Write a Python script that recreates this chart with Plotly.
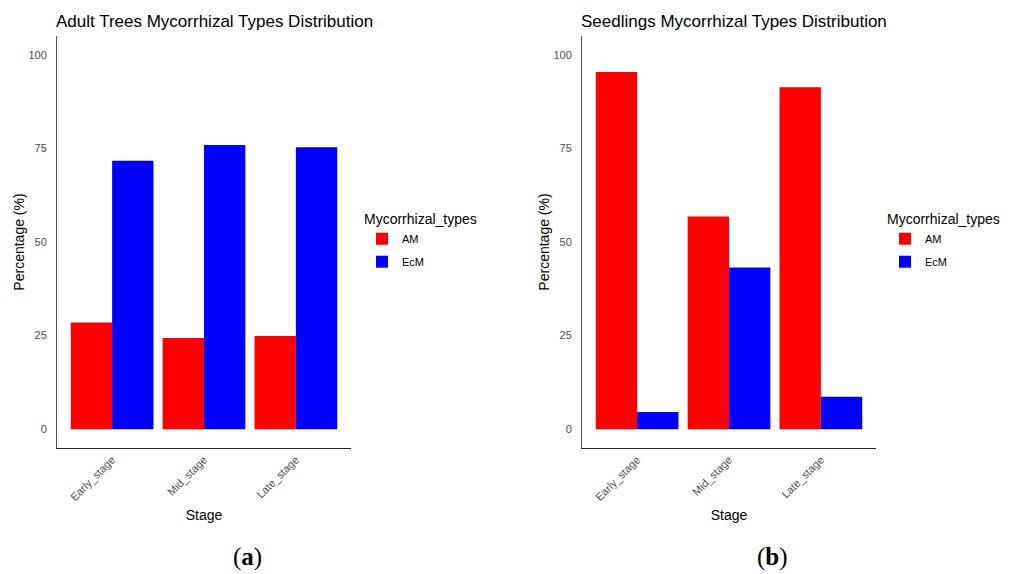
import plotly.graph_objects as go

stages = ["Early_stage", "Mid_stage", "Late_stage"]
types = ["AM", "EcM"]
adult_am = [28.5, 24.4, 24.9]
adult_ecm = [71.7, 75.9, 75.3]
seed_am = [95.4, 56.8, 91.3]
seed_ecm = [4.6, 43.2, 8.7]
colors = {"AM": "#ff0000", "EcM": "#0000ff"}
titles = ["Adult Trees Mycorrhizal Types Distribution", "Seedlings Mycorrhizal Types Distribution"]
y_ticks = [0, 25, 50, 75, 100]
panel_labels = ["a", "b"]

W, H = 1014, 574
fig = go.Figure()

panels = [
    ("x", "y", "legend", {"AM": adult_am, "EcM": adult_ecm}),
    ("x2", "y2", "legend2", {"AM": seed_am, "EcM": seed_ecm}),
]
for k, (xa, ya, lg, data) in enumerate(panels):
    for t in types:
        fig.add_trace(go.Bar(
            x=stages, y=data[t], name=t, xaxis=xa, yaxis=ya, legend=lg,
            legendgroup="%s_%d" % (t, k),
            marker=dict(color=colors[t], line=dict(width=0)),
        ))

FONT = "Liberation Sans, Arial, sans-serif"
TICKC = "#4d4d4d"

def px_x(v):
    return v / W

def px_y(v):
    return 1 - v / H

xdoms = [(57, 351), (582, 876)]
ydom = [px_y(448), px_y(36)]

axis_common_x = dict(
    type="category", range=[-0.6, 2.6], showgrid=False, zeroline=False,
    showline=True, linecolor="#222222", linewidth=1, ticks="",
    tickangle=-45, tickfont=dict(family=FONT, size=11, color=TICKC),
    title=dict(text="Stage", font=dict(family=FONT, size=14, color="#000000"), standoff=8),
)
axis_common_y = dict(
    range=[-5, 105], tickvals=y_ticks, showgrid=False, zeroline=False,
    showline=True, linecolor="#555555", linewidth=1, ticks="",
    ticklabelstandoff=7,
    tickfont=dict(family=FONT, size=11, color=TICKC),
    title=dict(text="Percentage (%)", font=dict(family=FONT, size=14, color="#000000"), standoff=0),
)

layout = dict(
    width=W, height=H, margin=dict(l=0, r=0, t=0, b=0),
    paper_bgcolor="white", plot_bgcolor="white",
    barmode="group", bargap=0.1, bargroupgap=0,
    font=dict(family=FONT),
)
for i, (xa, ya) in enumerate([("xaxis", "yaxis"), ("xaxis2", "yaxis2")]):
    xd = dict(axis_common_x)
    xd["domain"] = [px_x(xdoms[i][0]), px_x(xdoms[i][1])]
    xd["anchor"] = "y" if i == 0 else "y2"
    yd = dict(axis_common_y)
    yd["domain"] = ydom
    yd["anchor"] = "x" if i == 0 else "x2"
    layout[xa] = xd
    layout[ya] = yd

legend_pos = [362, 885]
for i, key in enumerate(["legend", "legend2"]):
    layout[key] = dict(
        x=px_x(legend_pos[i]), y=px_y(206), xanchor="left", yanchor="top",
        title=dict(text="Mycorrhizal_types", font=dict(family=FONT, size=14, color="#000000")),
        font=dict(family=FONT, size=11, color="#000000"),
        bgcolor="rgba(0,0,0,0)", traceorder="grouped", tracegroupgap=4,
    )

fig.update_layout(**layout)

for i, t in enumerate(titles):
    fig.add_annotation(
        text=t, xref="paper", yref="paper", x=px_x(xdoms[i][0] - 3), y=px_y(21),
        xanchor="left", yanchor="middle", showarrow=False,
        font=dict(family=FONT, size=17, color="#000000"),
    )
    fig.add_annotation(
        text="(<b>%s</b>)" % panel_labels[i], xref="paper", yref="paper",
        x=px_x(247 if i == 0 else 772), y=px_y(557), xanchor="center", yanchor="middle",
        showarrow=False, font=dict(family="Liberation Serif, DejaVu Serif, serif", size=25, color="#000000"),
    )

fig.write_html(
    "out.html",
    config={"displayModeBar": False},
    post_script="document.body.style.margin='0';document.body.style.overflow='hidden';",
)
